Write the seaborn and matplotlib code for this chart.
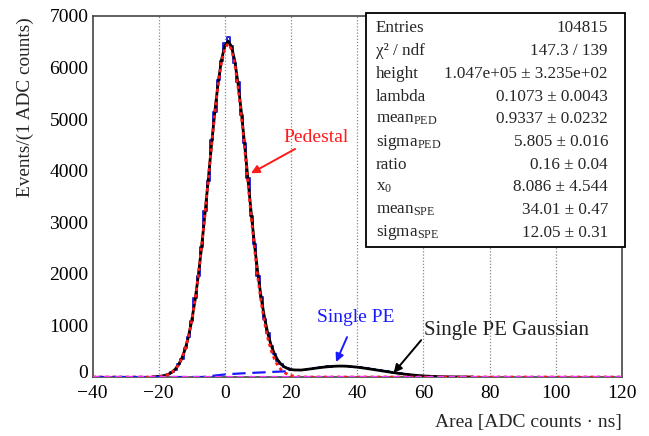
import numpy as np
import pandas as pd
import matplotlib
matplotlib.use("Agg")
import matplotlib.pyplot as plt
import matplotlib.transforms as mtransforms
import seaborn as sns
from matplotlib.patches import Rectangle

# ---------------- data ----------------
hist_start = -22
hist_counts = [3, 4, 11, 16, 35, 52, 97, 144, 246, 355, 560, 770, 1080, 1530, 1960,
               2520, 3210, 3800, 4590, 5130, 5760, 6120, 6480, 6600, 6420, 6090,
               5720, 5080, 4530, 3860, 3120, 2570, 1960, 1545, 1120, 850, 598, 452,
               318, 252, 190, 168, 141, 143, 131, 144, 140, 156, 153, 172, 170, 190,
               188, 205, 199, 214, 206, 218, 207, 213, 198, 202, 186, 188, 168, 169,
               150, 148, 130, 127, 110, 108, 90, 87, 72, 69, 55, 52, 41, 39, 29, 27,
               20, 18, 13, 12, 8, 7, 6, 3, 3, 2, 1, 1, 1, 0, 0, 0]

ped_start = -22
ped_fit = [2.6, 5, 9.7, 17.9, 31.6, 54.8, 92, 150, 237, 363, 541, 782, 1097, 1496,
           1980, 2541, 3169, 3833, 4505, 5138, 5688, 6113, 6378, 6460, 6351, 6062,
           5617, 5053, 4412, 3742, 3076, 2459, 1905, 1435, 1049, 744, 513, 343, 222,
           140, 86, 51, 29, 16, 9]

spe_start = -7
spe_fit = [0, 5, 12, 20, 28, 35, 42, 48, 53, 58, 62, 66, 70, 73, 76, 79, 82, 85, 88,
           91, 94, 97, 100, 103, 106, 109, 112, 116, 121, 127, 134, 142, 150, 158,
           167, 176, 184, 192, 198, 204, 208, 211, 212, 211, 208, 203, 197, 190, 182,
           173, 164, 154, 144, 134, 124, 114, 104, 94, 84, 75, 66, 58, 50, 43, 37,
           31, 26, 21, 17, 14, 11, 9, 7, 5, 4, 3, 2, 2, 1, 1, 1, 0, 0]

stat_labels = ["Entries", "χ² / ndf", "height", "lambda", "mean$_{\\mathregular{PED}}$",
               "sigma$_{\\mathregular{PED}}$", "ratio", "x$_{\\mathregular{0}}$",
               "mean$_{\\mathregular{SPE}}$", "sigma$_{\\mathregular{SPE}}$"]
stat_values = ["104815", "147.3 / 139", "1.047e+05 ± 3.235e+02", "0.1073 ± 0.0043",
               "0.9337 ± 0.0232", "5.805 ± 0.016", "0.16 ± 0.04", "8.086 ± 4.544",
               "34.01 ± 0.47", "12.05 ± 0.31"]

x_ticks = [-40, -20, 0, 20, 40, 60, 80, 100, 120]
y_ticks = [0, 1000, 2000, 3000, 4000, 5000, 6000, 7000]

# ---------------- build tables ----------------
grid = np.arange(-40, 121)
def on_grid(start, vals):
    arr = np.zeros(len(grid))
    i0 = start - grid[0]
    arr[i0:i0 + len(vals)] = vals
    return arr

ped_g = on_grid(ped_start, ped_fit)
spe_g = on_grid(spe_start, spe_fit)
tot_g = ped_g + spe_g
zero_g = np.zeros(len(grid))

hx = np.arange(hist_start, hist_start + len(hist_counts))
hist_df = pd.DataFrame({"x": hx, "n": np.array(hist_counts, dtype=float)})

# ---------------- figure ----------------
sns.set_style("white")
plt.rcParams["font.family"] = ["Liberation Serif", "DejaVu Serif"]
plt.rcParams["mathtext.fontset"] = "custom"
plt.rcParams["mathtext.rm"] = "Liberation Serif"
plt.rcParams["mathtext.it"] = "Liberation Serif:italic"

W, H = 649, 436
fig = plt.figure(figsize=(W / 100, H / 100), dpi=100)
L, R, T, B = 92.5, 622, 16, 377
ax = fig.add_axes([L / W, 1 - B / H, (R - L) / W, (B - T) / H])

sns.histplot(data=hist_df, x="x", weights="n", discrete=True, element="step",
             fill=False, color="#2a2ae0", linewidth=1.4, ax=ax)

mask_t = (grid >= -22) & (grid <= 75)
sns.lineplot(x=grid[mask_t], y=tot_g[mask_t], color="black", linewidth=2.0,
             ax=ax, zorder=4)
sns.lineplot(x=grid, y=ped_g, color="#ff1a1a", linewidth=2.0, ax=ax, zorder=5,
             linestyle=(0, (1.2, 1.2)))
mask_s = grid <= 20
sns.lineplot(x=grid[mask_s], y=spe_g[mask_s], color="#1a1aff", linewidth=1.6,
             ax=ax, zorder=5, linestyle=(0, (6, 3)))
sns.lineplot(x=grid, y=zero_g, color="#ff33ff", linewidth=1.6, ax=ax, zorder=6,
             linestyle=(0, (3, 2)))

ax.set_xlim(-40, 120)
ax.set_ylim(0, 7000)
ax.set_xlabel("")
ax.set_ylabel("")

# vertical grid (dotted)
for xv in x_ticks[1:-1]:
    ax.axvline(xv, color="#888888", linestyle=(0, (1, 1.5)), linewidth=0.9, zorder=1)

ax.set_xticks(x_ticks)
ax.set_yticks(y_ticks)
ax.set_xticks(np.arange(-40, 121, 5), minor=True)
ax.set_yticks(np.arange(0, 7001, 200), minor=True)
ax.set_xticklabels([f"{v}" if v >= 0 else f"\u2212{abs(v)}" for v in x_ticks])
ax.set_yticklabels([f"{v}" for v in y_ticks])
ax.tick_params(axis="both", which="major", direction="in", labelsize=14,
               colors="black", width=1.0)
ax.tick_params(axis="x", which="major", length=11, pad=6)
ax.tick_params(axis="y", which="major", length=16, pad=3)
ax.tick_params(axis="x", which="minor", direction="in", length=5, width=1.0)
ax.tick_params(axis="y", which="minor", direction="in", length=8, width=1.0)
for s in ax.spines.values():
    s.set_color("#444444")
    s.set_linewidth(1.2)

# lift the "0" y label a little (as in the reference) so it clears "-40"
zero_lab = ax.get_yticklabels()[0]
zero_lab.set_transform(zero_lab.get_transform() +
                       mtransforms.ScaledTranslation(0, 6 / 100, fig.dpi_scale_trans))

# axis titles
fig.text(25 / W, 1 - 17 / H, "Events/(1 ADC counts)", rotation=90, ha="center",
         va="top", fontsize=13.9)
fig.text(622 / W, 1 - 422 / H, "Area [ADC counts · ns]", ha="right", va="center",
         fontsize=14)

# annotations
ax.annotate("Pedestal", xy=(7.9, 3950), xytext=(17.8, 4650), color="#ff1a1a",
            fontsize=14, ha="left", va="center", zorder=8,
            arrowprops=dict(arrowstyle="-|>", color="#ff1a1a", lw=1.4,
                            mutation_scale=12, shrinkA=0, shrinkB=0))
ax.annotate("Single PE", xy=(33.6, 290), xytext=(39.5, 1150), color="#1a1aff",
            fontsize=14, ha="center", va="center", zorder=8,
            arrowprops=dict(arrowstyle="-|>", color="#1a1aff", lw=1.4,
                            mutation_scale=12, shrinkA=6, shrinkB=0))
ax.annotate("Single PE Gaussian", xy=(51, 80), xytext=(60.3, 900), color="#222222",
            fontsize=15, ha="left", va="center", zorder=8,
            arrowprops=dict(arrowstyle="-|>", color="black", lw=1.4,
                            mutation_scale=12, shrinkA=0, shrinkB=0,
                            relpos=(0, 0.2)))

# stats box
bx0, by0, bx1, by1 = 365.5, 12.7, 624.5, 247
ax.add_patch(Rectangle((bx0 / W, 1 - by1 / H), (bx1 - bx0) / W, (by1 - by0) / H,
                       transform=fig.transFigure, facecolor="white",
                       edgecolor="black", linewidth=1.3, zorder=20, clip_on=False))
for i, (lab, val) in enumerate(zip(stat_labels, stat_values)):
    yp = 1 - (28.5 + 22.7 * i) / H
    ax.text(376 / W, yp, lab, transform=fig.transFigure, ha="left", va="center",
            fontsize=12.3, zorder=21)
    ax.text(608 / W, yp, val, transform=fig.transFigure, ha="right", va="center",
            fontsize=12.3, zorder=21)

fig.savefig("out.png", dpi=100)
